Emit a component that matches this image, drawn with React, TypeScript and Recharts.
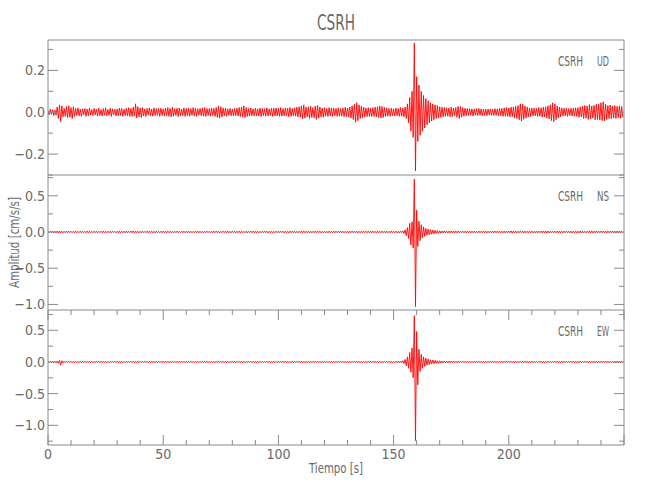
import React from "react";
import { LineChart, Line, XAxis, YAxis, ReferenceLine } from "recharts";

// ---------- data ----------
const SAMPLE_INTERVAL = 0.5; // seconds between samples

const udValues = [
  0.008,-0.012,0.015,-0.01,0.012,-0.016,0.01,-0.014,0.025,-0.03,0.035,-0.045,0.03,-0.022,0.018,-0.02,0.028,-0.026,0.03,-0.024,
  0.022,-0.03,0.026,-0.02,0.018,-0.015,0.02,-0.018,0.014,-0.02,0.016,-0.012,0.018,-0.02,0.015,-0.017,0.02,-0.014,0.012,-0.016,
  0.018,-0.013,0.015,-0.019,0.02,-0.016,0.012,-0.018,0.017,-0.014,0.021,-0.017,0.013,-0.015,0.019,-0.02,0.016,-0.012,0.014,-0.018,
  0.015,-0.017,0.02,-0.015,0.018,-0.02,0.014,-0.016,0.019,-0.018,0.022,-0.02,0.018,-0.021,0.024,-0.018,0.04,-0.028,0.026,-0.022,
  0.02,-0.025,0.022,-0.018,0.016,-0.02,0.018,-0.014,0.02,-0.017,0.015,-0.019,0.021,-0.016,0.018,-0.015,0.017,-0.02,0.019,-0.016,
  0.016,-0.018,0.02,-0.017,0.022,-0.02,0.018,-0.022,0.024,-0.019,0.017,-0.015,0.019,-0.021,0.02,-0.018,0.015,-0.017,0.021,-0.02,
  0.018,-0.016,0.02,-0.019,0.017,-0.015,0.022,-0.018,0.019,-0.02,0.016,-0.014,0.018,-0.017,0.02,-0.019,0.023,-0.02,0.018,-0.016,
  0.017,-0.019,0.02,-0.016,0.018,-0.02,0.022,-0.025,0.03,-0.028,0.026,-0.022,0.02,-0.018,0.019,-0.02,0.016,-0.015,0.018,-0.017,
  0.015,-0.017,0.018,-0.016,0.02,-0.018,0.022,-0.02,0.025,-0.024,0.03,-0.026,0.022,-0.02,0.018,-0.019,0.02,-0.017,0.016,-0.018,
  0.019,-0.017,0.016,-0.018,0.02,-0.021,0.018,-0.016,0.017,-0.019,0.021,-0.018,0.016,-0.015,0.018,-0.02,0.019,-0.017,0.02,-0.018,
  0.018,-0.02,0.022,-0.019,0.017,-0.018,0.02,-0.016,0.019,-0.021,0.023,-0.02,0.018,-0.017,0.021,-0.019,0.024,-0.022,0.026,-0.024,
  0.03,-0.032,0.035,-0.028,0.024,-0.022,0.026,-0.03,0.028,-0.025,0.022,-0.026,0.03,-0.034,0.032,-0.028,0.025,-0.022,0.02,-0.024,
  0.021,-0.019,0.018,-0.02,0.022,-0.018,0.02,-0.021,0.019,-0.017,0.018,-0.02,0.021,-0.019,0.017,-0.018,0.02,-0.022,0.024,-0.021,
  0.02,-0.022,0.025,-0.028,0.03,-0.035,0.038,-0.048,0.045,-0.04,0.035,-0.03,0.028,-0.026,0.024,-0.022,0.02,-0.021,0.022,-0.02,
  0.019,-0.021,0.022,-0.02,0.024,-0.022,0.026,-0.025,0.03,-0.028,0.027,-0.025,0.023,-0.02,0.021,-0.019,0.018,-0.02,0.019,-0.017,
  0.016,-0.018,0.02,-0.017,0.018,-0.02,0.022,-0.019,0.02,-0.022,0.025,-0.03,0.04,-0.05,0.07,-0.09,0.1,-0.12,0.33,-0.28,
  0.17,-0.14,0.13,-0.11,0.1,-0.09,0.08,-0.075,0.065,-0.06,0.055,-0.05,0.045,-0.042,0.04,-0.036,0.035,-0.03,0.032,-0.028,
  0.026,-0.025,0.024,-0.022,0.023,-0.02,0.021,-0.019,0.02,-0.022,0.024,-0.021,0.02,-0.018,0.022,-0.024,0.028,-0.03,0.027,-0.024,
  0.022,-0.02,0.019,-0.017,0.018,-0.016,0.017,-0.015,0.016,-0.018,0.015,-0.014,0.017,-0.016,0.018,-0.015,0.016,-0.017,0.015,-0.016,
  0.014,-0.016,0.015,-0.013,0.016,-0.015,0.014,-0.016,0.017,-0.015,0.016,-0.018,0.019,-0.017,0.018,-0.02,0.021,-0.019,0.022,-0.02,
  0.02,-0.022,0.024,-0.021,0.025,-0.027,0.028,-0.03,0.032,-0.036,0.04,-0.042,0.038,-0.034,0.03,-0.028,0.025,-0.022,0.02,-0.021,
  0.019,-0.018,0.02,-0.017,0.018,-0.02,0.022,-0.019,0.021,-0.023,0.024,-0.022,0.026,-0.028,0.03,-0.032,0.035,-0.04,0.045,-0.045,
  0.04,-0.036,0.03,-0.027,0.024,-0.022,0.02,-0.018,0.019,-0.017,0.018,-0.02,0.017,-0.016,0.019,-0.018,0.02,-0.019,0.021,-0.02,
  0.022,-0.024,0.026,-0.023,0.028,-0.03,0.032,-0.028,0.03,-0.034,0.036,-0.032,0.03,-0.028,0.033,-0.036,0.038,-0.035,0.04,-0.038,
  0.045,-0.04,0.05,-0.042,0.038,-0.035,0.032,-0.03,0.034,-0.031,0.03,-0.028,0.032,-0.03,0.028,-0.026,0.03,-0.029,0.027,-0.025,
];

const nsValues = [
  0.008,-0.01,0.012,-0.009,0.01,-0.012,0.009,-0.011,0.013,-0.015,0.014,-0.012,0.01,-0.011,0.009,-0.01,0.012,-0.01,0.011,-0.009,
  0.01,-0.008,0.009,-0.011,0.012,-0.01,0.008,-0.009,0.011,-0.012,0.01,-0.008,0.009,-0.01,0.012,-0.011,0.01,-0.009,0.008,-0.01,
  0.011,-0.009,0.01,-0.012,0.009,-0.008,0.01,-0.011,0.012,-0.01,0.009,-0.011,0.01,-0.009,0.011,-0.012,0.01,-0.008,0.009,-0.01,
  0.009,-0.011,0.012,-0.01,0.01,-0.009,0.011,-0.012,0.013,-0.011,0.01,-0.009,0.012,-0.01,0.015,-0.013,0.011,-0.01,0.009,-0.011,
  0.01,-0.012,0.011,-0.009,0.008,-0.01,0.012,-0.011,0.01,-0.008,0.009,-0.011,0.01,-0.012,0.011,-0.009,0.008,-0.01,0.01,-0.011,
  0.012,-0.01,0.009,-0.011,0.01,-0.009,0.011,-0.01,0.008,-0.012,0.01,-0.009,0.011,-0.01,0.009,-0.008,0.01,-0.011,0.012,-0.01,
  0.009,-0.01,0.011,-0.012,0.01,-0.009,0.008,-0.01,0.011,-0.009,0.012,-0.011,0.01,-0.01,0.009,-0.012,0.011,-0.009,0.01,-0.008,
  0.01,-0.011,0.009,-0.01,0.012,-0.01,0.011,-0.009,0.01,-0.012,0.009,-0.01,0.011,-0.008,0.01,-0.011,0.012,-0.01,0.009,-0.011,
  0.011,-0.009,0.01,-0.012,0.009,-0.01,0.012,-0.011,0.01,-0.009,0.008,-0.01,0.011,-0.012,0.01,-0.009,0.011,-0.01,0.012,-0.011,
  0.01,-0.012,0.011,-0.01,0.009,-0.011,0.01,-0.009,0.012,-0.01,0.011,-0.012,0.009,-0.01,0.01,-0.011,0.008,-0.009,0.011,-0.01,
  0.012,-0.011,0.01,-0.009,0.011,-0.012,0.01,-0.01,0.009,-0.011,0.012,-0.01,0.011,-0.009,0.01,-0.012,0.009,-0.011,0.01,-0.01,
  0.011,-0.01,0.012,-0.011,0.01,-0.009,0.011,-0.012,0.01,-0.01,0.009,-0.011,0.012,-0.01,0.01,-0.009,0.011,-0.012,0.01,-0.011,
  0.009,-0.011,0.01,-0.012,0.011,-0.01,0.009,-0.01,0.012,-0.011,0.01,-0.009,0.011,-0.01,0.012,-0.011,0.01,-0.012,0.009,-0.01,
  0.011,-0.012,0.01,-0.009,0.012,-0.011,0.01,-0.01,0.011,-0.012,0.009,-0.011,0.01,-0.01,0.012,-0.009,0.011,-0.01,0.01,-0.012,
  0.01,-0.011,0.012,-0.01,0.009,-0.012,0.011,-0.01,0.01,-0.011,0.012,-0.009,0.01,-0.012,0.011,-0.01,0.009,-0.011,0.012,-0.01,
  0.009,-0.01,0.011,-0.012,0.01,-0.013,0.012,-0.011,0.015,-0.02,0.03,-0.05,0.06,-0.09,0.12,-0.18,0.14,-0.22,0.73,-1.03,
  0.3,-0.2,0.15,-0.12,0.1,-0.08,0.07,-0.06,0.05,-0.045,0.04,-0.035,0.032,-0.03,0.028,-0.025,0.022,-0.02,0.02,-0.018,
  0.016,-0.015,0.014,-0.013,0.015,-0.012,0.013,-0.014,0.012,-0.013,0.014,-0.012,0.011,-0.013,0.012,-0.011,0.013,-0.012,0.011,-0.01,
  0.012,-0.011,0.01,-0.012,0.011,-0.01,0.012,-0.013,0.011,-0.01,0.012,-0.011,0.01,-0.012,0.013,-0.011,0.01,-0.01,0.012,-0.011,
  0.011,-0.012,0.01,-0.011,0.012,-0.01,0.011,-0.012,0.013,-0.011,0.012,-0.01,0.011,-0.012,0.01,-0.011,0.012,-0.013,0.011,-0.01,
  0.012,-0.011,0.014,-0.015,0.013,-0.012,0.011,-0.012,0.01,-0.011,0.012,-0.01,0.011,-0.013,0.012,-0.011,0.01,-0.012,0.011,-0.01,
  0.011,-0.012,0.01,-0.011,0.012,-0.013,0.011,-0.01,0.012,-0.011,0.013,-0.012,0.014,-0.015,0.013,-0.012,0.011,-0.012,0.01,-0.011,
  0.012,-0.01,0.011,-0.012,0.013,-0.011,0.01,-0.012,0.011,-0.01,0.012,-0.011,0.01,-0.012,0.011,-0.013,0.012,-0.011,0.01,-0.012,
  0.011,-0.012,0.013,-0.014,0.012,-0.011,0.01,-0.012,0.011,-0.01,0.012,-0.013,0.014,-0.012,0.011,-0.012,0.013,-0.011,0.012,-0.01,
  0.012,-0.011,0.013,-0.012,0.011,-0.013,0.012,-0.01,0.011,-0.012,0.013,-0.011,0.012,-0.014,0.013,-0.012,0.011,-0.012,0.01,-0.011,
];

const ewValues = [
  0.008,-0.01,0.01,-0.009,0.012,-0.011,0.01,-0.012,0.015,-0.02,0.025,-0.05,0.02,-0.015,0.012,-0.01,0.011,-0.009,0.01,-0.011,
  0.009,-0.011,0.01,-0.012,0.011,-0.009,0.01,-0.01,0.012,-0.011,0.009,-0.01,0.011,-0.012,0.01,-0.009,0.012,-0.01,0.011,-0.01,
  0.01,-0.012,0.011,-0.01,0.009,-0.011,0.012,-0.01,0.01,-0.009,0.011,-0.012,0.01,-0.011,0.009,-0.01,0.012,-0.011,0.01,-0.009,
  0.011,-0.01,0.012,-0.011,0.01,-0.012,0.009,-0.01,0.011,-0.011,0.012,-0.01,0.01,-0.009,0.011,-0.012,0.01,-0.01,0.012,-0.011,
  0.01,-0.009,0.011,-0.012,0.012,-0.01,0.01,-0.011,0.009,-0.012,0.011,-0.01,0.012,-0.011,0.01,-0.009,0.011,-0.01,0.009,-0.012,
  0.012,-0.011,0.01,-0.009,0.011,-0.012,0.01,-0.01,0.012,-0.011,0.009,-0.01,0.011,-0.012,0.01,-0.011,0.012,-0.009,0.01,-0.01,
  0.011,-0.012,0.009,-0.01,0.012,-0.011,0.011,-0.009,0.01,-0.012,0.012,-0.01,0.009,-0.011,0.011,-0.01,0.01,-0.012,0.012,-0.011,
  0.01,-0.01,0.012,-0.011,0.009,-0.012,0.011,-0.01,0.012,-0.009,0.01,-0.011,0.011,-0.012,0.009,-0.01,0.012,-0.011,0.01,-0.009,
  0.012,-0.01,0.011,-0.012,0.01,-0.011,0.009,-0.01,0.012,-0.012,0.011,-0.009,0.01,-0.011,0.012,-0.01,0.009,-0.012,0.011,-0.01,
  0.01,-0.011,0.012,-0.009,0.011,-0.012,0.01,-0.01,0.009,-0.011,0.012,-0.011,0.01,-0.012,0.011,-0.009,0.012,-0.01,0.01,-0.011,
  0.011,-0.012,0.01,-0.011,0.012,-0.01,0.009,-0.012,0.011,-0.01,0.01,-0.011,0.012,-0.012,0.011,-0.009,0.01,-0.01,0.012,-0.011,
  0.009,-0.01,0.011,-0.012,0.01,-0.011,0.012,-0.01,0.011,-0.012,0.01,-0.009,0.012,-0.011,0.009,-0.01,0.011,-0.012,0.01,-0.011,
  0.012,-0.011,0.01,-0.01,0.011,-0.012,0.009,-0.011,0.012,-0.01,0.01,-0.012,0.011,-0.009,0.012,-0.011,0.01,-0.01,0.011,-0.012,
  0.01,-0.012,0.012,-0.011,0.009,-0.01,0.011,-0.012,0.01,-0.011,0.012,-0.01,0.011,-0.012,0.01,-0.009,0.012,-0.011,0.011,-0.01,
  0.011,-0.01,0.01,-0.012,0.012,-0.011,0.009,-0.01,0.011,-0.012,0.01,-0.011,0.012,-0.01,0.011,-0.009,0.01,-0.012,0.012,-0.011,
  0.01,-0.011,0.012,-0.01,0.013,-0.012,0.015,-0.014,0.02,-0.025,0.04,-0.06,0.08,-0.1,0.15,-0.16,0.22,-0.25,0.73,-1.24,
  0.48,-0.36,0.2,-0.15,0.12,-0.1,0.08,-0.07,0.06,-0.05,0.045,-0.04,0.035,-0.03,0.03,-0.028,0.025,-0.022,0.02,-0.02,
  0.018,-0.016,0.015,-0.014,0.016,-0.013,0.014,-0.015,0.013,-0.012,0.014,-0.013,0.012,-0.013,0.011,-0.012,0.013,-0.011,0.012,-0.01,
  0.011,-0.012,0.01,-0.011,0.012,-0.01,0.011,-0.012,0.01,-0.011,0.012,-0.013,0.011,-0.01,0.012,-0.011,0.01,-0.012,0.011,-0.01,
  0.012,-0.011,0.01,-0.012,0.011,-0.01,0.012,-0.011,0.01,-0.012,0.011,-0.01,0.012,-0.011,0.013,-0.012,0.011,-0.01,0.012,-0.011,
  0.01,-0.012,0.011,-0.01,0.013,-0.014,0.012,-0.011,0.01,-0.012,0.011,-0.01,0.012,-0.011,0.01,-0.012,0.011,-0.013,0.012,-0.011,
  0.011,-0.01,0.012,-0.011,0.01,-0.012,0.011,-0.01,0.012,-0.013,0.011,-0.012,0.01,-0.011,0.012,-0.01,0.011,-0.012,0.01,-0.011,
  0.012,-0.011,0.01,-0.012,0.011,-0.01,0.013,-0.012,0.011,-0.01,0.012,-0.011,0.01,-0.012,0.011,-0.01,0.012,-0.011,0.01,-0.012,
  0.011,-0.012,0.012,-0.011,0.01,-0.012,0.011,-0.01,0.012,-0.013,0.011,-0.01,0.012,-0.011,0.013,-0.012,0.011,-0.012,0.01,-0.011,
  0.012,-0.01,0.011,-0.012,0.013,-0.011,0.012,-0.012,0.011,-0.01,0.012,-0.013,0.011,-0.012,0.012,-0.011,0.013,-0.012,0.011,-0.011,
];

const xDomain = [0, 250];
const xTicks = [0, 10, 20, 30, 40, 50, 60, 70, 80, 90, 100, 110, 120, 130, 140, 150, 160, 170, 180, 190, 200, 210, 220, 230, 240, 250];
const xMajorTicks = [0, 50, 100, 150, 200, 250];
const xLabelledTicks = [0, 50, 100, 150, 200];
const xTickLabels = ["0", "50", "100", "150", "200"];

const udDomain = [-0.3, 0.345];
const udTicks = [-0.3, -0.2, -0.1, 0, 0.1, 0.2, 0.3];
const udMajorTicks = [-0.2, 0, 0.2];
const udTickLabels = ["\u22120.2", "0.0", "0.2"];

const nsDomain = [-1.077, 0.787];
const nsTicks = [-1, -0.75, -0.5, -0.25, 0, 0.25, 0.5, 0.75];
const nsMajorTicks = [-1, -0.5, 0, 0.5];
const nsTickLabels = ["\u22121.0", "\u22120.5", "0.0", "0.5"];

const ewDomain = [-1.31, 0.82];
const ewTicks = [-1.25, -1, -0.75, -0.5, -0.25, 0, 0.25, 0.5, 0.75];
const ewMajorTicks = [-1, -0.5, 0, 0.5];
const ewTickLabels = ["\u22121.0", "\u22120.5", "0.0", "0.5"];

const stationName = "CSRH";
const componentNames = ["UD", "NS", "EW"];
const titleText = "CSRH";
const xAxisTitle = "Tiempo  [s]";
const yAxisTitle = "Amplitud  [cm/s/s]";

// ---------- styles ----------
const AXIS_COLOR = "#8a8a8a";
const TEXT_COLOR = "#6a6a6a";
const TRACE_COLOR = "#ff0000";
const FONT = "'Liberation Sans Narrow', 'DejaVu Sans Condensed', 'Liberation Sans', sans-serif";
const PLOT_LEFT = 48;
const PLOT_WIDTH = 576;
const PANEL_HEIGHT = 135;
const PANEL_TOPS = [40, 175, 310];
const BOTTOM_AXIS_HEIGHT = 30;

const toSeries = (values: number[]) =>
  values.map((v, i) => ({ t: i * SAMPLE_INTERVAL, v }));

const XTickMarks = (props: any) => {
  const { x, y, payload } = props;
  const major = xMajorTicks.includes(payload.value);
  const len = major ? 10 : 5;
  return (
    <g>
      <line x1={x} y1={y} x2={x} y2={y - len} stroke={AXIS_COLOR} strokeWidth={1} />
      <line x1={x} y1={y - PANEL_HEIGHT} x2={x} y2={y - PANEL_HEIGHT + len} stroke={AXIS_COLOR} strokeWidth={1} />
    </g>
  );
};

const XTickMarksLabelled = (props: any) => {
  const { x, y, payload } = props;
  const major = xMajorTicks.includes(payload.value);
  const len = major ? 10 : 5;
  const idx = xLabelledTicks.indexOf(payload.value);
  return (
    <g>
      <line x1={x} y1={y} x2={x} y2={y - len} stroke={AXIS_COLOR} strokeWidth={1} />
      <line x1={x} y1={y - PANEL_HEIGHT} x2={x} y2={y - PANEL_HEIGHT + len} stroke={AXIS_COLOR} strokeWidth={1} />
      {idx >= 0 ? (
        <text x={x} y={y + 14} textAnchor="middle" fill={TEXT_COLOR} fontSize={14} fontFamily={FONT}>
          {xTickLabels[idx]}
        </text>
      ) : null}
    </g>
  );
};

function makeYTick(majors: number[], labels: string[]) {
  return (props: any) => {
    const { x, y, payload } = props;
    const value = payload.value;
    const idx = majors.findIndex((m) => Math.abs(m - value) < 1e-9);
    const major = idx >= 0;
    const len = major ? 10 : 5;
    return (
      <g>
        <line x1={x} y1={y} x2={x + len} y2={y} stroke={AXIS_COLOR} strokeWidth={1} />
        <line x1={x + PLOT_WIDTH} y1={y} x2={x + PLOT_WIDTH - len} y2={y} stroke={AXIS_COLOR} strokeWidth={1} />
        {major ? (
          <text x={x - 3} y={y + 5} textAnchor="end" fill={TEXT_COLOR} fontSize={14} fontFamily={FONT}>
            {labels[idx]}
          </text>
        ) : null}
      </g>
    );
  };
}

type PanelProps = {
  values: number[];
  domain: number[];
  ticks: number[];
  majors: number[];
  labels: string[];
  top: number;
  bottomLabels: boolean;
};

function Panel({ values, domain, ticks, majors, labels, top, bottomLabels }: PanelProps) {
  const data = toSeries(values);
  const axisH = bottomLabels ? BOTTOM_AXIS_HEIGHT : 0;
  return (
    <div style={{ position: "absolute", left: 0, top, width: 650, height: PANEL_HEIGHT + axisH }}>
      <LineChart
        width={650}
        height={PANEL_HEIGHT + axisH}
        data={data}
        margin={{ top: 0, right: 650 - PLOT_LEFT - PLOT_WIDTH, bottom: 0, left: 0 }}
      >
        <XAxis
          type="number"
          dataKey="t"
          domain={xDomain}
          ticks={xTicks}
          interval={0}
          allowDataOverflow
          height={axisH}
          tickSize={0}
          tickMargin={0}
          tickLine={false}
          axisLine={{ stroke: AXIS_COLOR }}
          tick={bottomLabels ? XTickMarksLabelled : XTickMarks}
        />
        <YAxis
          type="number"
          domain={domain}
          ticks={ticks}
          interval={0}
          allowDataOverflow
          width={PLOT_LEFT}
          tickSize={0}
          tickMargin={0}
          tickLine={false}
          axisLine={{ stroke: AXIS_COLOR }}
          tick={makeYTick(majors, labels)}
        />
        <ReferenceLine y={domain[1]} stroke={AXIS_COLOR} ifOverflow="visible" />
        <ReferenceLine x={xDomain[1]} stroke={AXIS_COLOR} ifOverflow="visible" />
        <Line
          type="linear"
          dataKey="v"
          stroke={TRACE_COLOR}
          strokeWidth={0.9}
          dot={false}
          activeDot={false}
          isAnimationActive={false}
        />
      </LineChart>
    </div>
  );
}

export default function App() {
  const labelBaselines = PANEL_TOPS.map((t) => t + 26);
  return (
    <div style={{ position: "absolute", left: 0, top: 0, width: 650, height: 500, background: "#fff" }}>
      <style>{`.recharts-surface, .recharts-wrapper { overflow: visible !important; }`}</style>
      <Panel values={udValues} domain={udDomain} ticks={udTicks} majors={udMajorTicks} labels={udTickLabels} top={PANEL_TOPS[0]} bottomLabels={false} />
      <Panel values={nsValues} domain={nsDomain} ticks={nsTicks} majors={nsMajorTicks} labels={nsTickLabels} top={PANEL_TOPS[1]} bottomLabels={false} />
      <Panel values={ewValues} domain={ewDomain} ticks={ewTicks} majors={ewMajorTicks} labels={ewTickLabels} top={PANEL_TOPS[2]} bottomLabels={true} />
      <svg width={650} height={500} style={{ position: "absolute", left: 0, top: 0, pointerEvents: "none" }}>
        <text x={336} y={30} textAnchor="middle" fill={TEXT_COLOR} fontSize={21} fontFamily={FONT} textLength={38} lengthAdjust="spacingAndGlyphs">
          {titleText}
        </text>
        {componentNames.map((c, i) => (
          <g key={c}>
            <text x={558} y={labelBaselines[i]} fill={TEXT_COLOR} fontSize={14} fontFamily={FONT} textLength={25} lengthAdjust="spacingAndGlyphs">
              {stationName}
            </text>
            <text x={597} y={labelBaselines[i]} fill={TEXT_COLOR} fontSize={14} fontFamily={FONT} textLength={12} lengthAdjust="spacingAndGlyphs">
              {c}
            </text>
          </g>
        ))}
        <text x={336} y={473} textAnchor="middle" fill={TEXT_COLOR} fontSize={14} fontFamily={FONT} textLength={54} lengthAdjust="spacingAndGlyphs">
          {xAxisTitle}
        </text>
        <text
          x={0}
          y={0}
          transform="translate(19, 242.5) rotate(-90)"
          textAnchor="middle"
          fill={TEXT_COLOR}
          fontSize={14}
          fontFamily={FONT}
          textLength={91}
          lengthAdjust="spacingAndGlyphs"
        >
          {yAxisTitle}
        </text>
      </svg>
    </div>
  );
}
